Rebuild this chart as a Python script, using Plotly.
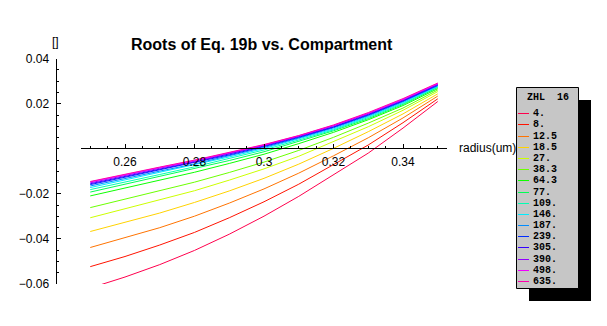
import plotly.graph_objects as go

# radius (um) at which the roots were evaluated
radius = [0.25, 0.26, 0.27, 0.28, 0.29, 0.30, 0.31, 0.32, 0.33, 0.34, 0.35]

# roots of Eq. 19b, one list per ZHL value
root_4 = [-0.0618, -0.0569, -0.0514, -0.0451, -0.0379, -0.0299, -0.0211, -0.0115, -0.0019, 0.0092, 0.0210]
root_8 = [-0.0523, -0.0478, -0.0427, -0.0371, -0.0306, -0.0235, -0.0157, -0.0071, 0.0017, 0.0116, 0.0222]
root_12_5 = [-0.0438, -0.0395, -0.0350, -0.0299, -0.0241, -0.0178, -0.0108, -0.0031, 0.0049, 0.0137, 0.0234]
root_18_5 = [-0.0367, -0.0327, -0.0285, -0.0238, -0.0187, -0.0131, -0.0068, 0.0002, 0.0076, 0.0155, 0.0244]
root_27 = [-0.0306, -0.0267, -0.0228, -0.0186, -0.0139, -0.0089, -0.0033, 0.0031, 0.0098, 0.0171, 0.0254]
root_38_3 = [-0.0261, -0.0224, -0.0187, -0.0148, -0.0105, -0.0059, -0.0007, 0.0051, 0.0114, 0.0181, 0.0261]
root_54_3 = [-0.0209, -0.0174, -0.0140, -0.0104, -0.0065, -0.0024, 0.0023, 0.0073, 0.0129, 0.0192, 0.0267]
root_77 = [-0.0192, -0.0157, -0.0124, -0.0090, -0.0052, -0.0013, 0.0032, 0.0080, 0.0134, 0.0197, 0.0272]
root_109 = [-0.0181, -0.0146, -0.0114, -0.0080, -0.0043, -0.0005, 0.0039, 0.0084, 0.0139, 0.0201, 0.0275]
root_146 = [-0.0172, -0.0138, -0.0105, -0.0073, -0.0036, 0.0001, 0.0044, 0.0088, 0.0143, 0.0205, 0.0277]
root_187 = [-0.0165, -0.0131, -0.0099, -0.0067, -0.0031, 0.0006, 0.0048, 0.0093, 0.0147, 0.0209, 0.0280]
root_239 = [-0.0159, -0.0126, -0.0094, -0.0062, -0.0027, 0.0010, 0.0051, 0.0096, 0.0150, 0.0212, 0.0282]
root_305 = [-0.0155, -0.0121, -0.0090, -0.0058, -0.0023, 0.0013, 0.0054, 0.0098, 0.0153, 0.0214, 0.0285]
root_390 = [-0.0151, -0.0117, -0.0086, -0.0055, -0.0020, 0.0015, 0.0056, 0.0102, 0.0156, 0.0217, 0.0287]
root_498 = [-0.0147, -0.0114, -0.0083, -0.0052, -0.0018, 0.0017, 0.0058, 0.0104, 0.0158, 0.0220, 0.0290]
root_635 = [-0.0145, -0.0112, -0.0081, -0.0050, -0.0016, 0.0019, 0.0059, 0.0106, 0.0161, 0.0223, 0.0292]

zhl_labels = ["4.", "8.", "12.5", "18.5", "27.", "38.3", "64.3", "77.", "109.",
              "146.", "187.", "239.", "305.", "390.", "498.", "635."]
zhl_roots = [root_4, root_8, root_12_5, root_18_5, root_27, root_38_3, root_54_3, root_77,
             root_109, root_146, root_187, root_239, root_305, root_390, root_498, root_635]
hue_colors = ["#ff004d", "#ff1300", "#ff7300", "#ffd200", "#ccff00", "#6cff00", "#0dff00", "#00ff53",
              "#00ffb3", "#00ecff", "#008cff", "#002dff", "#3300ff", "#9300ff", "#f200ff", "#ff00ac"]

x_ticks = [0.26, 0.28, 0.30, 0.32, 0.34]
x_ticktext = ["0.26", "0.28", "0.3", "0.32", "0.34"]
y_ticks = [-0.06, -0.04, -0.02, 0.02, 0.04]

W, H = 607, 326
FONT = "Liberation Sans, Arial, sans-serif"
MONO = "Liberation Mono, Courier New, monospace"


def px(x):
    return x / W


def py(y):
    return 1 - y / H


def label(text, x, y, size=12, family=FONT, xanchor="center"):
    fig.add_annotation(text=text, x=px(x), y=py(y), xref="paper", yref="paper",
                       xanchor=xanchor, yanchor="middle", showarrow=False,
                       font=dict(family=family, size=size, color="black"))


fig = go.Figure()
for name, ys, color in zip(zhl_labels, zhl_roots, hue_colors):
    fig.add_trace(go.Scatter(x=radius, y=ys, mode="lines", name=name,
                             line=dict(color=color, width=1), showlegend=False,
                             hoverinfo="skip"))

fig.update_layout(
    width=W, height=H,
    margin=dict(l=0, r=0, t=0, b=0),
    paper_bgcolor="white", plot_bgcolor="rgba(0,0,0,0)",
    font=dict(family=FONT, size=12, color="black"),
    xaxis=dict(
        domain=[px(81), px(447)], range=[0.24734, 0.35266],
        anchor="free", position=py(148.3),
        showline=True, linecolor="black", linewidth=1,
        showgrid=False, zeroline=False,
        tickmode="array", tickvals=x_ticks, ticktext=x_ticktext,
        ticks="inside", ticklen=4, tickcolor="black", tickwidth=1,
        ticklabelstandoff=2,
        minor=dict(dtick=0.005, tick0=0.25, ticks="inside", ticklen=2, tickcolor="black", showgrid=False),
        tickfont=dict(family=FONT, size=12, color="black"),
        automargin=False,
    ),
    yaxis=dict(
        domain=[py(284.0), py(58.7)], range=[-0.06, 0.04],
        anchor="free", position=px(55.5),
        showline=True, linecolor="black", linewidth=1,
        showgrid=False, zeroline=False,
        tickmode="array", tickvals=y_ticks,
        tickformat=".2f",
        ticks="inside", ticklen=4, tickcolor="black", tickwidth=1,
        ticklabelstandoff=4,
        minor=dict(dtick=0.005, tick0=0, ticks="inside", ticklen=2, tickcolor="black", showgrid=False),
        tickfont=dict(family=FONT, size=12, color="black"),
        automargin=False,
    ),
    # pixel-space overlay used for the legend swatches
    xaxis2=dict(domain=[0, 1], range=[0, W], visible=False, fixedrange=True, anchor="y2"),
    yaxis2=dict(domain=[0, 1], range=[H, 0], visible=False, fixedrange=True, anchor="x2"),
)

# title and axis labels
label("<b>Roots of Eq. 19b vs. Compartment</b>", 262, 44, size=16)
label("[]", 55, 42)
label("radius(um)", 457, 148, xanchor="left")

# legend panel with drop shadow
box_l, box_r, box_t, box_b = 516.5, 578.5, 87.5, 288.5
shadow = 12.5
fig.add_shape(type="rect", xref="paper", yref="paper", layer="below",
              x0=px(box_l + shadow), x1=px(box_r + shadow), y0=py(box_b + shadow), y1=py(box_t + shadow),
              fillcolor="black", line=dict(width=0))
fig.add_shape(type="rect", xref="paper", yref="paper", layer="below",
              x0=px(box_l), x1=px(box_r), y0=py(box_b), y1=py(box_t),
              fillcolor="#c6c6c6", line=dict(color="black", width=1))
label("<b>ZHL  16</b>", (box_l + box_r) / 2, 97, size=10, family=MONO)
row0, row_step = 113.3, 11.18
for i, (name, color) in enumerate(zip(zhl_labels, hue_colors)):
    yy = round(row0 + i * row_step) + 0.5
    fig.add_trace(go.Scatter(x=[518, 529], y=[yy, yy], mode="lines", xaxis="x2", yaxis="y2",
                             line=dict(color=color, width=1), showlegend=False, hoverinfo="skip"))
    label("<b>" + name + "</b>", 530.5, yy, size=10, family=MONO, xanchor="left")

fig.write_html("out.html")
